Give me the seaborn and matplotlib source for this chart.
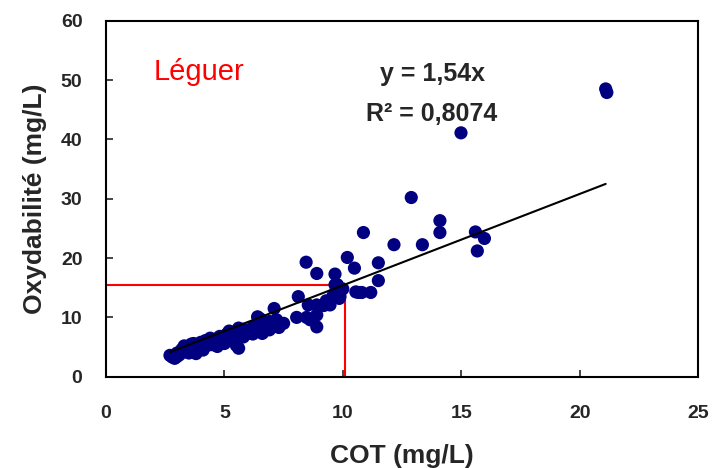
import matplotlib
matplotlib.use('Agg')
import matplotlib.pyplot as plt
import seaborn as sns
import pandas as pd

# COT (mg/L) vs oxydabilite (mg/L)
cot = [2.7, 2.8, 2.9, 3.0, 3.1, 3.2, 3.3, 3.4, 3.5, 3.6, 3.7, 3.8, 3.9, 4.0, 4.1,
       4.2, 4.3, 4.4, 4.5, 4.6, 4.7, 4.8, 4.9, 5.0, 5.1, 5.2, 5.3, 5.4, 5.5, 5.6,
       5.6, 5.7, 5.8, 5.9, 6.0, 6.1, 6.2, 6.3, 6.4, 6.4, 6.5, 6.6, 6.7, 6.8, 6.9,
       7.0, 7.1, 7.2, 7.3, 7.5, 3.5, 4.0, 4.5, 5.0, 5.2, 3.0, 4.4, 5.8, 6.2, 6.9,
       8.05, 8.12, 8.45, 8.47, 8.54, 8.62, 8.9, 8.9, 8.9, 8.9, 9.2, 9.46, 9.67,
       9.67, 9.77, 9.85, 9.88, 9.3, 9.6, 10.0, 10.19, 10.49, 10.55, 10.66, 10.8,
       10.87, 11.18, 11.5, 11.5, 12.16, 12.89, 13.36, 14.1, 14.1, 14.99, 15.6,
       15.68, 15.98, 21.1, 21.15]
oxy = [3.6, 3.3, 3.1, 4.0, 3.7, 4.6, 5.2, 4.2, 4.9, 5.5, 5.6, 3.9, 5.0, 5.8, 4.5,
       6.1, 5.3, 6.5, 5.9, 6.3, 5.1, 6.8, 6.0, 6.7, 7.2, 6.2, 7.5, 6.9, 5.3, 4.8,
       8.2, 7.0, 6.7, 7.8, 7.3, 7.6, 8.4, 8.0, 8.7, 10.1, 9.8, 7.3, 8.9, 8.2, 9.3,
       8.6, 11.5, 9.6, 8.3, 9.0, 4.0, 4.9, 5.4, 5.6, 7.7, 3.4, 5.6, 8.0, 7.2, 7.9,
       10.0, 13.5, 19.3, 10.0, 12.1, 9.6, 17.4, 12.1, 10.4, 8.4, 12.0, 12.1, 17.3,
       15.5, 15.5, 13.2, 13.5, 12.8, 13.8, 14.8, 20.1, 18.3, 14.3, 14.2, 14.2,
       24.3, 14.2, 19.2, 16.2, 22.25, 30.2, 22.25, 26.3, 24.3, 41.1, 24.4,
       21.2, 23.3, 48.5, 47.9]

slope = 1.54
trend_x = [2.7, 21.1]
ref_x, ref_y = 10.1, 15.5

df = pd.DataFrame({'COT': cot, 'Oxy': oxy})
trend = pd.DataFrame({'x': trend_x, 'y': [slope * v for v in trend_x]})

sns.set_style('white')
plt.rcParams['font.family'] = ['Liberation Sans', 'DejaVu Sans']

fig, ax = plt.subplots(figsize=(7.13, 4.68), dpi=100)
fig.subplots_adjust(left=0.1487, right=0.979, top=0.9558, bottom=0.195)

# red reference lines
ax.plot([0, ref_x], [ref_y, ref_y], color='red', lw=1.5, zorder=1)
ax.plot([ref_x, ref_x], [0, ref_y], color='red', lw=1.5, zorder=1)

sns.scatterplot(data=df, x='COT', y='Oxy', color='#000080', s=90,
                edgecolor='none', ax=ax, zorder=2)
sns.lineplot(data=trend, x='x', y='y', color='black', lw=1.5, ax=ax, zorder=3)

ax.set_xlim(0, 25)
ax.set_ylim(0, 60)
ax.set_xticks([0, 5, 10, 15, 20, 25])
ax.set_yticks([0, 10, 20, 30, 40, 50, 60])
ax.tick_params(axis='both', direction='in', length=5, width=1.2,
               labelsize=14, bottom=True, left=True)
ax.tick_params(axis='x', pad=20)
ax.tick_params(axis='y', pad=17)
for lab in ax.get_xticklabels() + ax.get_yticklabels():
    lab.set_fontweight('bold')
for sp in ax.spines.values():
    sp.set_color('black')
    sp.set_linewidth(1.5)

ax.set_xlabel('COT (mg/L)', fontsize=19, fontweight='bold', labelpad=16)
ax.set_ylabel('Oxydabilité (mg/L)', fontsize=19, fontweight='bold', labelpad=10)

ax.text(2.0, 51.4, 'Léguer', color='red', fontsize=21, va='center', ha='left')
ax.text(13.77, 51.0, 'y = 1,54x', fontsize=18, fontweight='bold',
        ha='center', va='center')
ax.text(13.77, 44.2, 'R² = 0,8074', fontsize=18, fontweight='bold',
        ha='center', va='center')

fig.savefig('out.png', dpi=100)
